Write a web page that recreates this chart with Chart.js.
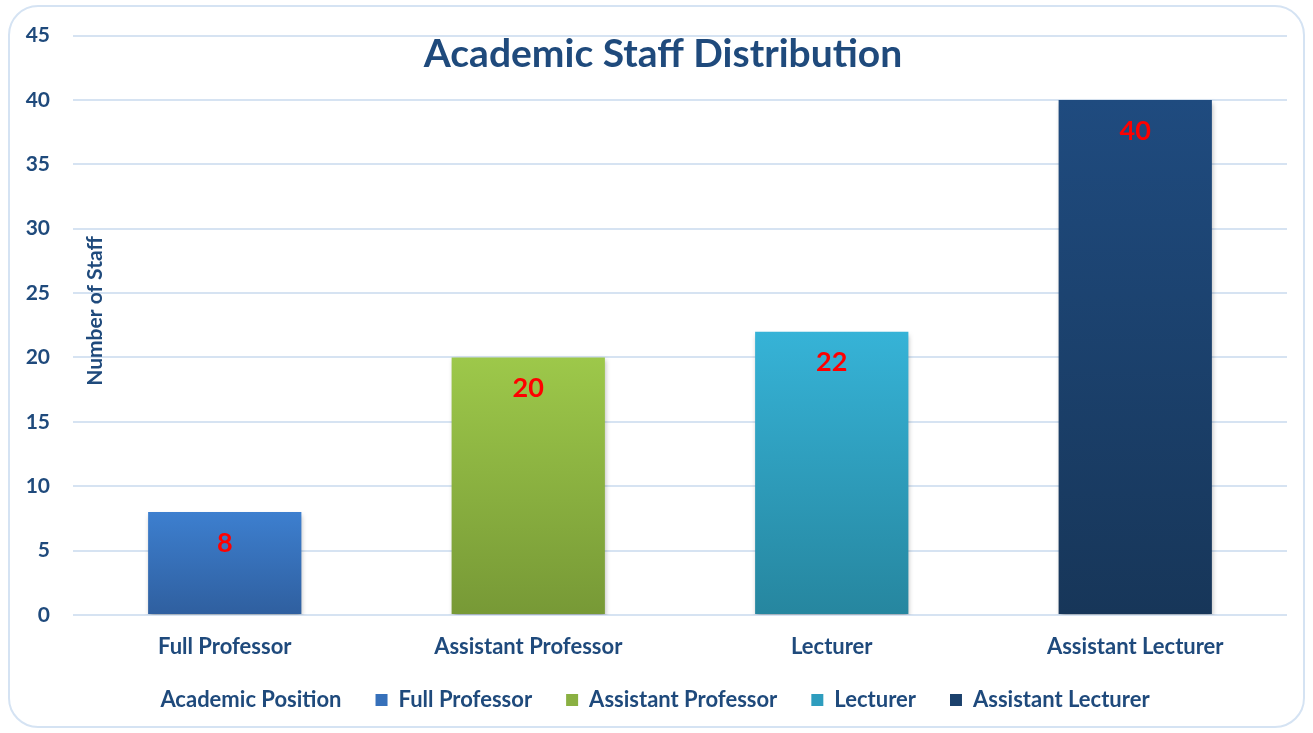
<!DOCTYPE html>
<html>
<head>
<meta charset="utf-8">
<title>Academic Staff Distribution</title>
<script src="https://cdn.jsdelivr.net/npm/chart.js@4/dist/chart.umd.min.js"></script>
<style>
  html, body { margin: 0; padding: 0; background: #ffffff; overflow: hidden; }
  /* cadre arrondi autour du graphique */
  #frame {
    position: absolute; left: 8px; top: 5px;
    width: 1293px; height: 719px;
    border: 2px solid #d5e3f3; border-radius: 30px;
  }
  #staffChart { position: absolute; left: 0; top: 0; }
</style>
</head>
<body>
<div id="frame"></div>
<canvas id="staffChart" width="1313" height="733"></canvas>
<script>
/* ---- données ---- */
const categories  = ['Full Professor', 'Assistant Professor', 'Lecturer', 'Assistant Lecturer'];
const staffCounts = [8, 20, 22, 40];
const yMin = 0, yMax = 45, yStep = 5;

const chartTitle = 'Academic Staff Distribution';
const xAxisTitle = 'Academic Position';
const yAxisTitle = 'Number of Staff';

/* couleurs des barres : haut -> bas du dégradé */
const barTopColors    = ['#3d7fcf', '#9dc84a', '#36b3d7', '#1f4b7f'];
const barBottomColors = ['#2f5f9f', '#779936', '#26869f', '#173659'];
const legendColors    = ['#3670ba', '#8ab042', '#2e9dbe', '#1b416c'];

const TEXT_COLOR = '#1f4a7c';
const FONT = "Lato, 'Open Sans', sans-serif";

/* dégradé vertical pour chaque barre */
function barGradient(context) {
  const chart = context.chart;
  const i = context.dataIndex;
  if (!chart.chartArea || i === undefined) return barTopColors[i] || barTopColors[0];
  const yScale = chart.scales.y;
  const top = yScale.getPixelForValue(staffCounts[i]);
  const bottom = yScale.getPixelForValue(0);
  const g = chart.ctx.createLinearGradient(0, top, 0, bottom);
  g.addColorStop(0, barTopColors[i]);
  g.addColorStop(1, barBottomColors[i]);
  return g;
}

/* ombre légère sous les barres */
const barShadow = {
  id: 'barShadow',
  beforeDatasetsDraw(chart) {
    const ctx = chart.ctx;
    ctx.save();
    ctx.shadowColor = 'rgba(0,0,0,0.28)';
    ctx.shadowBlur = 5;
    ctx.shadowOffsetX = 1;
    ctx.shadowOffsetY = 3;
  },
  afterDatasetsDraw(chart) {
    chart.ctx.restore();
  }
};

/* valeurs en rouge dans le haut des barres */
const valueLabels = {
  id: 'valueLabels',
  afterDatasetsDraw(chart) {
    const ctx = chart.ctx;
    const meta = chart.getDatasetMeta(0);
    ctx.save();
    ctx.font = 'bold 27px ' + FONT;
    ctx.fillStyle = '#ff0000';
    ctx.textAlign = 'center';
    ctx.textBaseline = 'middle';
    meta.data.forEach((bar, i) => {
      ctx.fillText(String(staffCounts[i]), bar.x, bar.y + 31);
    });
    ctx.restore();
  }
};

/* titre du graphique et titre de l'axe Y dessinés dans la zone du tracé */
const overlayTitles = {
  id: 'overlayTitles',
  afterDraw(chart) {
    const { ctx, chartArea } = chart;
    ctx.save();
    ctx.fillStyle = TEXT_COLOR;
    ctx.textAlign = 'center';
    ctx.textBaseline = 'middle';

    ctx.font = 'bold 39px ' + FONT;
    ctx.fillText(chartTitle, 663, chartArea.top + 19);

    ctx.translate(chartArea.left + 22, 311);
    ctx.rotate(-Math.PI / 2);
    ctx.font = 'bold 21px ' + FONT;
    ctx.fillText(yAxisTitle, 0, 0);
    ctx.restore();
  }
};

new Chart(document.getElementById('staffChart'), {
  type: 'bar',
  data: {
    labels: categories,
    datasets: [{
      label: yAxisTitle,
      data: staffCounts,
      backgroundColor: barGradient,
      borderWidth: 0,
      categoryPercentage: 1.0,
      barPercentage: 0.505,
    }],
  },
  options: {
    responsive: false,
    animation: false,
    layout: { padding: { top: 35, right: 26, bottom: 12, left: 0 } },
    plugins: {
      tooltip: { enabled: false },
      legend: {
        position: 'bottom',
        onClick: null,
        labels: {
          boxWidth: 12,
          boxHeight: 12,
          padding: 34,
          color: TEXT_COLOR,
          font: { family: FONT, size: 22, weight: 'bold' },
          // le titre de l'axe X est placé comme premier élément de la légende
          generateLabels() {
            const items = [{
              text: xAxisTitle,
              fillStyle: 'rgba(0,0,0,0)',
              strokeStyle: 'rgba(0,0,0,0)',
              lineWidth: 0,
              fontColor: TEXT_COLOR,
              hidden: false,
            }];
            categories.forEach((c, i) => items.push({
              text: c,
              fillStyle: legendColors[i],
              strokeStyle: legendColors[i],
              lineWidth: 0,
              fontColor: TEXT_COLOR,
              hidden: false,
              index: i,
            }));
            return items;
          },
        },
      },
    },
    scales: {
      y: {
        min: yMin,
        max: yMax,
        ticks: {
          stepSize: yStep,
          padding: 23,
          color: TEXT_COLOR,
          font: { family: FONT, size: 21, weight: 'bold' },
        },
        grid: { color: '#d6e3f2', lineWidth: 2, drawTicks: false },
        border: { display: false },
        afterFit(scale) { scale.width = 73; },
      },
      x: {
        ticks: {
          padding: 19,
          color: TEXT_COLOR,
          font: { family: FONT, size: 22, weight: 'bold' },
        },
        grid: { display: false, drawTicks: false },
        border: { display: false },
        afterFit(scale) { scale.height = 40; },
      },
    },
  },
  plugins: [barShadow, valueLabels, overlayTitles],
});
</script>
</body>
</html>
